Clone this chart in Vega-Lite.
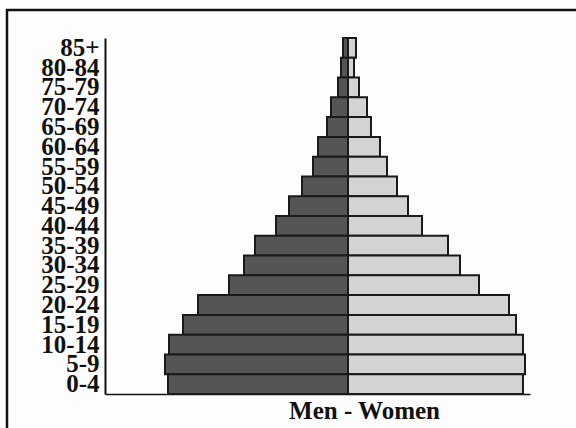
{
  "$schema": "https://vega.github.io/schema/vega-lite/v6.json",
  "width": 425,
  "height": 356,
  "autosize": {"type": "none"},
  "padding": {"left": 105, "top": 38, "right": 46, "bottom": 34},
  "background": "#fdfdfd",
  "config": {"view": {"stroke": null}},
  "layer": [
    {
      "data": {
        "values": [
          {"age": "85+", "sex": "Men", "value": -5},
          {"age": "80-84", "sex": "Men", "value": -7},
          {"age": "75-79", "sex": "Men", "value": -10},
          {"age": "70-74", "sex": "Men", "value": -17},
          {"age": "65-69", "sex": "Men", "value": -21},
          {"age": "60-64", "sex": "Men", "value": -30},
          {"age": "55-59", "sex": "Men", "value": -35},
          {"age": "50-54", "sex": "Men", "value": -46},
          {"age": "45-49", "sex": "Men", "value": -59},
          {"age": "40-44", "sex": "Men", "value": -72},
          {"age": "35-39", "sex": "Men", "value": -93},
          {"age": "30-34", "sex": "Men", "value": -104},
          {"age": "25-29", "sex": "Men", "value": -119},
          {"age": "20-24", "sex": "Men", "value": -150},
          {"age": "15-19", "sex": "Men", "value": -165},
          {"age": "10-14", "sex": "Men", "value": -179},
          {"age": "5-9", "sex": "Men", "value": -183},
          {"age": "0-4", "sex": "Men", "value": -180},
          {"age": "85+", "sex": "Women", "value": 8},
          {"age": "80-84", "sex": "Women", "value": 6},
          {"age": "75-79", "sex": "Women", "value": 11},
          {"age": "70-74", "sex": "Women", "value": 19},
          {"age": "65-69", "sex": "Women", "value": 23},
          {"age": "60-64", "sex": "Women", "value": 32},
          {"age": "55-59", "sex": "Women", "value": 39},
          {"age": "50-54", "sex": "Women", "value": 49},
          {"age": "45-49", "sex": "Women", "value": 60},
          {"age": "40-44", "sex": "Women", "value": 74},
          {"age": "35-39", "sex": "Women", "value": 100},
          {"age": "30-34", "sex": "Women", "value": 112},
          {"age": "25-29", "sex": "Women", "value": 131},
          {"age": "20-24", "sex": "Women", "value": 161},
          {"age": "15-19", "sex": "Women", "value": 168},
          {"age": "10-14", "sex": "Women", "value": 175},
          {"age": "5-9", "sex": "Women", "value": 177},
          {"age": "0-4", "sex": "Women", "value": 175}
        ]
      },
      "mark": {"type": "bar", "stroke": "#1a1a1a", "strokeWidth": 2},
      "encoding": {
        "y": {
          "field": "age",
          "type": "nominal",
          "sort": ["85+", "80-84", "75-79", "70-74", "65-69", "60-64", "55-59", "50-54", "45-49", "40-44", "35-39", "30-34", "25-29", "20-24", "15-19", "10-14", "5-9", "0-4"],
          "scale": {"paddingInner": 0, "paddingOuter": 0},
          "axis": {
            "title": null,
            "ticks": false,
            "domainColor": "#111111",
            "domainWidth": 2,
            "labelFont": "Liberation Serif",
            "labelFontWeight": "bold",
            "labelFontSize": 25,
            "labelColor": "#111111",
            "labelPadding": 6,
            "labelOverlap": false,
            "labelBound": false
          }
        },
        "x": {
          "field": "value",
          "type": "quantitative",
          "stack": null,
          "scale": {"domain": [-243, 182], "nice": false, "zero": false},
          "axis": {
            "title": "Men - Women",
            "labels": false,
            "ticks": false,
            "grid": false,
            "domainColor": "#111111",
            "domainWidth": 1.5,
            "titleFont": "Liberation Serif",
            "titleFontWeight": "bold",
            "titleFontSize": 25,
            "titleColor": "#111111",
            "titleX": 259,
            "titleY": 24,
            "titleAlign": "center",
            "titleBaseline": "alphabetic"
          }
        },
        "color": {
          "field": "sex",
          "type": "nominal",
          "scale": {"domain": ["Men", "Women"], "range": ["#555555", "#d3d3d3"]},
          "legend": null
        }
      }
    },
    {
      "data": {"values": [{}]},
      "mark": {"type": "rect", "fill": null, "stroke": "#111111", "strokeWidth": 2.5},
      "encoding": {
        "x": {"datum": -341, "type": "quantitative"},
        "x2": {"datum": 300},
        "y": {"datum": 384, "type": "quantitative", "scale": {"domain": [0, 356], "nice": false, "zero": false}, "axis": null},
        "y2": {"datum": -60}
      }
    }
  ],
  "resolve": {"scale": {"y": "independent"}, "axis": {"y": "independent"}}
}
